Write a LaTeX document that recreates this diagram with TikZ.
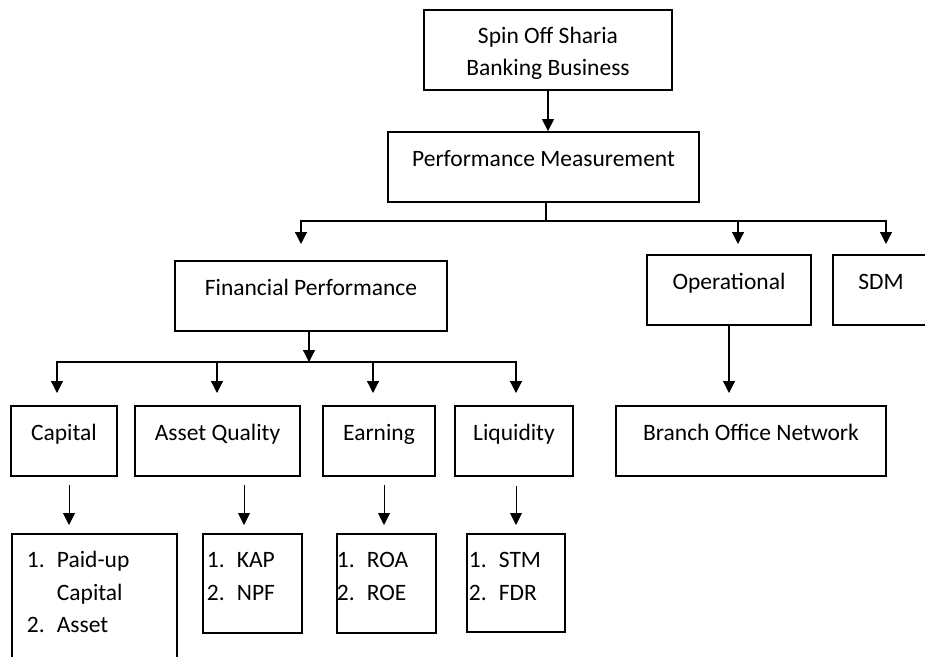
\documentclass[tikz,border=0pt]{standalone}
\usepackage{fontspec}
\setmainfont{Carlito}
\usepackage{tikz}
\usetikzlibrary{
  arrows.meta,
  calc
}
\newcommand{\numitem}[2]{\makebox[30pt][l]{#1}#2}
\tikzset{
block/.style={
  draw,
  line width=1.8pt,
  inner sep=0pt,
  minimum width=#1,
  text height=34pt,
  text depth=36pt
},
listbox/.style={
  draw,
  line width=1.8pt,
  inner sep=0pt,
  anchor=north west,
  text height=34pt,
  text depth=#1
},
connector/.style={
  line width=1.2pt
},
arrow/.style={
  -{Triangle[length=12pt,width=12pt]},
  line width=1.2pt
},
droparrow/.style={
  -{Triangle[length=12pt,width=12pt]},
  line width=1pt,
  shorten >=8pt
}
}
\begin{document}
\begin{tikzpicture}[x=1pt, y=-1pt, font=\fontsize{23.5}{32.5}\selectfont]
\useasboundingbox (0,0) rectangle (925,656);
\clip (0,0) rectangle (925,656);

% ============================================================================
% TOP LEVEL
% ============================================================================
\node[block=248pt, text height=33pt, text depth=47pt] (spin) at (548,50)
  {\begin{tabular}[t]{@{}c@{}}Spin Off Sharia\\Banking Business\end{tabular}};
\node[block=311pt] (perf) at (543.5,167) {Performance Measurement};

\draw[arrow] (spin.south) -- (spin.south |- perf.north);

% ============================================================================
% MEASUREMENT AREAS
% ============================================================================
\node[block=272pt] (fin) at (311,296) {Financial Performance};
\node[block=164pt] (oper) at (729,290) {Operational};
\node[block=96pt] (sdm) at (881,290) {SDM};

\coordinate (split) at (546,221);
\coordinate (finin) at (301,244);
\coordinate (operin) at (738,244);
\coordinate (sdmin) at (886,244);

\draw[connector] (split |- perf.south) -- (split);
\draw[arrow] (split) -| (finin);
\draw[arrow] (split) -| (operin);
\draw[arrow] (split) -| (sdmin);

% ============================================================================
% FINANCIAL INDICATORS
% ============================================================================
\node[block=106pt] (capital) at (64,441) {Capital};
\node[block=165pt] (quality) at (217.5,441) {Asset Quality};
\node[block=112pt] (earning) at (379,441) {Earning};
\node[block=118pt] (liquidity) at (514,441) {Liquidity};

\coordinate (finsplit) at (309,362);
\coordinate (capin) at (57,393);
\coordinate (qualityin) at (217,393);
\coordinate (earningin) at (373,393);
\coordinate (liquidityin) at (516,393);

\draw[arrow] (finsplit |- fin.south) -- (finsplit);
\draw[arrow] (finsplit) -| (capin);
\draw[arrow] (finsplit) -| (qualityin);
\draw[arrow] (finsplit) -| (earningin);
\draw[arrow] (finsplit) -| (liquidityin);

% Ratio lists
\node[listbox=150pt] (caplist) at (11,533)
  {\parbox[t]{165pt}{\hspace*{15pt}\numitem{1.}{Paid-up}\\\hspace*{45pt}Capital\\\hspace*{15pt}\numitem{2.}{Asset}}};
\node[listbox=65pt] (kaplist) at (202,533)
  {\parbox[t]{99pt}{\hspace*{4pt}\numitem{1.}{KAP}\\\hspace*{4pt}\numitem{2.}{NPF}}};
\node[listbox=65pt] (roalist) at (336,533)
  {\parbox[t]{99pt}{\numitem{1.}{ROA}\\\numitem{2.}{ROE}}};
\node[listbox=64pt] (stmlist) at (466,533)
  {\parbox[t]{98pt}{\hspace*{2pt}\numitem{1.}{STM}\\\hspace*{2pt}\numitem{2.}{FDR}}};

\coordinate (capdrop) at (69,485);
\coordinate (qualitydrop) at (244,485);
\coordinate (earningdrop) at (384,485);
\coordinate (liquiditydrop) at (516,486);

\draw[droparrow] (capdrop) -- (capdrop |- caplist.north);
\draw[droparrow] (qualitydrop) -- (qualitydrop |- kaplist.north);
\draw[droparrow] (earningdrop) -- (earningdrop |- roalist.north);
\draw[droparrow] (liquiditydrop) -- (liquiditydrop |- stmlist.north);

% ============================================================================
% OPERATIONAL
% ============================================================================
\node[block=270pt] (branch) at (751,441) {Branch Office Network};

\coordinate (branchin) at (729,393);
\draw[arrow] (oper.south) -- (branchin);

\end{tikzpicture}
\end{document}
